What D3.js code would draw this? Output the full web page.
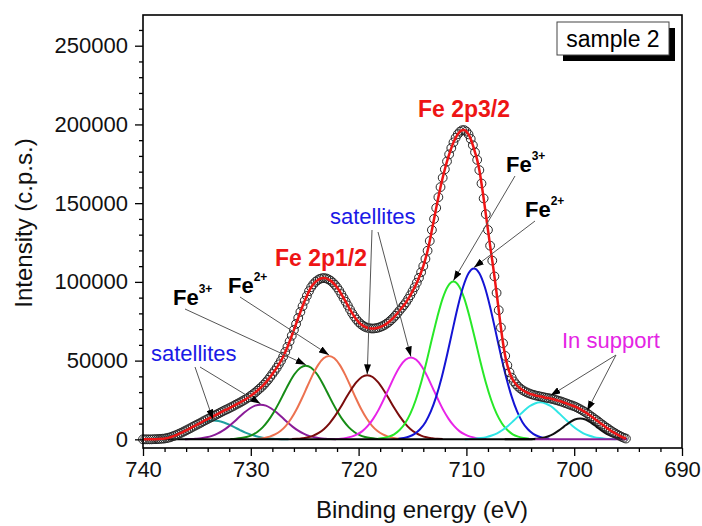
<!DOCTYPE html>
<html><head><meta charset="utf-8">
<script src="https://cdn.jsdelivr.net/npm/d3@7"></script>
<style>body{margin:0;background:#fff}</style>
</head><body><svg id="chart" width="702" height="526"></svg>
<script>
// ---------- DATA ----------
// measured spectrum: binding energy from 740.0 eV downwards in 0.2 eV steps
const energyStart = 740, energyStep = 0.2;
const intensity = [
0,0,0,0,0, 100,100,200,300,400,
500,800,1100,1500,2000, 2500,3100,3700,4300,5000,
5700,6400,7100,7900,8600, 9300,10000,10700,11500,12200,
12900,13600,14300,15000,15700, 16400,17100,17800,18500,19100,
19800,20500,21200,22000,22700, 23400,24200,25000,25800,26700,
27700,28700,29700,30900,32100, 33300,34700,36200,37800,39600,
41500,43400,45400,47600,49900, 52500,55500,58700,62200,65800,
69500,73300,77100,80900,84500, 88000,91100,94100,96600,98500,
100000,101100,101900,102300,102400, 102200,101600,100800,99600,98200,
96500,94500,92200,89800,87400, 85000,82500,80100,78000,76100,
74500,73200,72200,71400,70900, 70600,70400,70400,70600,70900,
71300,71900,72600,73500,74500, 75700,77000,78500,80100,81800,
83500,85200,87000,89200,91500, 94000,96600,99500,102600,106100,
110000,114600,119800,126000,133000, 140000,147000,153800,160200,166100,
171500,176500,181000,185000,188600, 191500,193800,195400,196300,196400,
195500,193700,190800,186800,182300, 177500,171000,162500,153000,143000,
133000,123000,113500,103500,93000, 82000,71000,61000,53000,47000,
42500,39200,36800,35000,33500, 32300,31300,30500,29800,29200,
28700,28300,27900,27600,27300, 27000,26700,26400,26200,25900,
25600,25200,24800,24400,24000, 23500,23000,22500,22000,21500,
21000,20400,19700,19000,18200, 17400,16500,15500,14500,13500,
12500,11500,10400,9400,8400, 7400,6500,5500,4600,3800,
3000,2300,1600,1000,500
];
const measuredRange = [740, 695.1];

// fitted components: centre (eV) and values sampled every 0.5 eV from centre-7 to centre+7
const componentNames = ["sat1","sat2","Fe3+ 2p1/2","Fe2+ 2p1/2","sat3","sat4","Fe3+ 2p3/2","Fe2+ 2p3/2","support1","support2"];
const componentCenters = [733.5, 729.1, 724.9, 722.75, 719.2, 715.15, 711.2, 709.3, 703.15, 699.45];
const componentStep = 0.5;
const compSat1 = [0,100,200,400,700,1200,2000,3000,4300,5900,7600,9300,10700,11700,12000,11700,10700,9300,7600,5900,4300,3000,2000,1200,700,400,200,100,0];
const compSat2 = [100,200,400,700,1300,2200,3600,5500,7900,10800,14000,17000,19600,21400,22000,21400,19600,17000,14000,10800,7900,5500,3600,2200,1300,700,400,200,100];
const compFe3p12 = [200,400,800,1500,2700,4700,7600,11700,16900,23000,29700,36300,41800,45500,46800,45500,41800,36300,29700,23000,16900,11700,7600,4700,2700,1500,800,400,200];
const compFe2p12 = [200,400,900,1700,3100,5300,8600,13200,19100,26100,33700,41100,47300,51500,53000,51500,47300,41100,33700,26100,19100,13200,8600,5300,3100,1700,900,400,200];
const compSat3 = [200,300,700,1300,2400,4100,6600,10200,14700,20000,25900,31500,36300,39600,40700,39600,36300,31500,25900,20000,14700,10200,6600,4100,2400,1300,700,300,200];
const compSat4 = [200,400,900,1700,3100,5200,8500,13000,18700,25600,33000,40300,46400,50500,52000,50500,46400,40300,33000,25600,18700,13000,8500,5200,3100,1700,900,400,200];
const compFe3p32 = [400,800,1700,3200,5900,10100,16300,25000,36100,49300,63700,77600,89500,97400,100200,97400,89500,77600,63700,49300,36100,25000,16300,10100,5900,3200,1700,800,400];
const compFe2p32 = [400,900,1800,3500,6400,10900,17700,27100,39100,53400,68900,84100,96900,105500,108500,105500,96900,84100,68900,53400,39100,27100,17700,10900,6400,3500,1800,900,400];
const compSupport1 = [100,200,400,800,1400,2400,3800,5900,8500,11600,14900,18200,21000,22800,23500,22800,21000,18200,14900,11600,8500,5900,3800,2400,1400,800,400,200,100];
const compSupport2 = [0,0,0,0,100,100,400,900,1800,3300,5500,8100,10600,12600,13300,12600,10600,8100,5500,3300,1800,900,400,100,100,0,0,0,0];
const componentValues = [compSat1, compSat2, compFe3p12, compFe2p12, compSat3, compSat4, compFe3p32, compFe2p32, compSupport1, compSupport2];
const componentColors = ["#1f9e9e","#8a1c98","#168c16","#ec7250","#7a0c0c","#e824e8","#28e828","#1414d4","#30e6e6","#111111"];

// baseline segments (eV)
const baselineBlack = [740, 703.6];
const baselinePurple = [703.6, 695.1];

const xTicks = [740,730,720,710,700,690];
const xMinor = [738,736,734,732,728,726,724,722,718,716,714,712,708,706,704,702,698,696,694,692];
const yTicks = [0,50000,100000,150000,200000,250000];
const yMinor = [10000,20000,30000,40000,60000,70000,80000,90000,110000,120000,130000,140000,160000,170000,180000,190000,210000,220000,230000,240000,260000];

// ---------- DRAWING ----------
const W = 702, H = 526;
const L = 143, R = 682, T = 15, B = 448;
const FONT = "'Liberation Sans', Arial, Helvetica, sans-serif";
const svg = d3.select("#chart");
svg.append("rect").attr("width", W).attr("height", H).attr("fill", "#fff");

const x = d3.scaleLinear().domain([740, 690]).range([L, R]);
const y = d3.scaleLinear().domain([-5500, 269500]).range([B, T]);

const defs = svg.append("defs");
defs.append("clipPath").attr("id", "clipData").append("rect")
  .attr("x", x(measuredRange[0])).attr("y", T)
  .attr("width", x(measuredRange[1]) - x(measuredRange[0])).attr("height", B - T);
defs.append("marker").attr("id", "arrow").attr("markerUnits", "userSpaceOnUse")
  .attr("viewBox", "0 0 10 7").attr("markerWidth", 10).attr("markerHeight", 7)
  .attr("refX", 10).attr("refY", 3.5).attr("orient", "auto")
  .append("path").attr("d", "M0,0 L10,3.5 L0,7 Z").attr("fill", "#000");

// components
const gComp = svg.append("g").attr("clip-path", "url(#clipData)");
const compLine = d3.line().x(d => x(d[0])).y(d => y(d[1])).curve(d3.curveMonotoneX);
componentValues.forEach((vals, c) => {
  const n = vals.length, half = (n - 1) / 2;
  const pts = vals.map((v, k) => [componentCenters[c] + (half - k) * componentStep, v]);
  gComp.append("path").attr("d", compLine(pts)).attr("fill", "none")
    .attr("stroke", componentColors[c]).attr("stroke-width", 2);
});

// baseline
svg.append("line").attr("x1", x(baselineBlack[0])).attr("x2", x(baselineBlack[1]))
  .attr("y1", y(0)).attr("y2", y(0)).attr("stroke", "#000").attr("stroke-width", 2);
svg.append("line").attr("x1", x(baselinePurple[0])).attr("x2", x(baselinePurple[1]))
  .attr("y1", y(0)).attr("y2", y(0)).attr("stroke", "#8a1c98").attr("stroke-width", 2);

// measured points
const pts = intensity.map((v, i) => [energyStart - i * energyStep, v]);
svg.append("g").selectAll("circle").data(pts).join("circle")
  .attr("cx", d => x(d[0])).attr("cy", d => y(d[1])).attr("r", 4.4)
  .attr("fill", "none").attr("stroke", "#262626").attr("stroke-width", 1);

// fit envelope
svg.append("path").attr("d", d3.line().x(d => x(d[0])).y(d => y(d[1])).curve(d3.curveMonotoneX)(pts))
  .attr("fill", "none").attr("stroke", "#ee1515").attr("stroke-width", 2.5);

// axes
svg.append("g").attr("transform", `translate(0,${B})`)
  .call(d3.axisBottom(x).tickValues(xTicks).tickSize(8).tickSizeOuter(0).tickPadding(5).tickFormat(d3.format("d")));
svg.append("g").attr("transform", `translate(0,${B})`)
  .call(d3.axisBottom(x).tickValues(xMinor).tickSize(4).tickSizeOuter(0).tickFormat(""));
svg.append("g").attr("transform", `translate(${L},0)`)
  .call(d3.axisLeft(y).tickValues(yTicks).tickSize(8).tickSizeOuter(0).tickPadding(7).tickFormat(d3.format("d")));
svg.append("g").attr("transform", `translate(${L},0)`)
  .call(d3.axisLeft(y).tickValues(yMinor).tickSize(4).tickSizeOuter(0).tickFormat(""));
svg.selectAll(".tick line").attr("stroke", "#000").attr("stroke-width", 1.3);
svg.selectAll(".domain").attr("stroke", "none");
svg.selectAll(".tick text").attr("font-family", FONT).attr("font-size", 22).attr("fill", "#111");

// frame
svg.append("rect").attr("x", L).attr("y", T).attr("width", R - L).attr("height", B - T)
  .attr("fill", "none").attr("stroke", "#000").attr("stroke-width", 1.6);

// axis titles
svg.append("text").attr("x", 422).attr("y", 518).attr("text-anchor", "middle")
  .attr("font-family", FONT).attr("font-size", 24).attr("fill", "#111").text("Binding energy (eV)");
svg.append("text").attr("transform", "translate(32,223) rotate(-90)").attr("text-anchor", "middle")
  .attr("font-family", FONT).attr("font-size", 24).attr("fill", "#111").text("Intensity (c.p.s.)");

// legend box
svg.append("rect").attr("x", 563).attr("y", 28).attr("width", 112).attr("height", 33).attr("fill", "#000");
svg.append("rect").attr("x", 557).attr("y", 22).attr("width", 112).attr("height", 33)
  .attr("fill", "#fff").attr("stroke", "#444").attr("stroke-width", 1);
svg.append("text").attr("x", 613).attr("y", 47).attr("text-anchor", "middle")
  .attr("font-family", FONT).attr("font-size", 23).attr("fill", "#000").text("sample 2");

// annotations
function label(txt, px, py, color, size, bold, anchor) {
  svg.append("text").attr("x", px).attr("y", py).attr("text-anchor", anchor || "start")
    .attr("font-family", FONT).attr("font-size", size).attr("font-weight", bold ? "bold" : "normal")
    .attr("fill", color).text(txt);
}
function ion(sup, px, py) {
  const t = svg.append("text").attr("x", px).attr("y", py).attr("font-family", FONT)
    .attr("font-weight", "bold").attr("fill", "#000");
  t.append("tspan").attr("font-size", 22).text("Fe");
  t.append("tspan").attr("font-size", 12).attr("dy", -12).text(sup);
}
function arrow(x1, y1, x2, y2) {
  svg.append("line").attr("x1", x1).attr("y1", y1).attr("x2", x2).attr("y2", y2)
    .attr("stroke", "#555").attr("stroke-width", 1).attr("marker-end", "url(#arrow)");
}
const peakPx = i => [x(componentCenters[i]), y(d3.max(componentValues[i])) - 1];

label("Fe 2p3/2", 464, 117, "#ee1515", 23, true, "middle");
label("Fe 2p1/2", 321, 266, "#ee1515", 23, true, "middle");
label("satellites", 330, 224, "#1a1ae6", 22, false);
label("satellites", 151, 361, "#1a1ae6", 22, false);
label("In support", 562, 348, "#e424e4", 22, false);
ion("3+", 506, 172);
ion("2+", 525, 217);
ion("3+", 173, 305);
ion("2+", 228, 293);

arrow(515, 176, ...peakPx(6));
arrow(535, 221, ...peakPx(7));
arrow(185, 309, ...peakPx(2));
arrow(240, 297, ...peakPx(3));
arrow(372, 230, ...peakPx(4));
arrow(378, 232, ...peakPx(5));
arrow(195, 367, ...peakPx(0));
arrow(200, 367, ...peakPx(1));
arrow(616, 355, x(702.2), y(25900) - 3);
arrow(616, 355, x(698.8), y(16300) - 3);
</script></body></html>
